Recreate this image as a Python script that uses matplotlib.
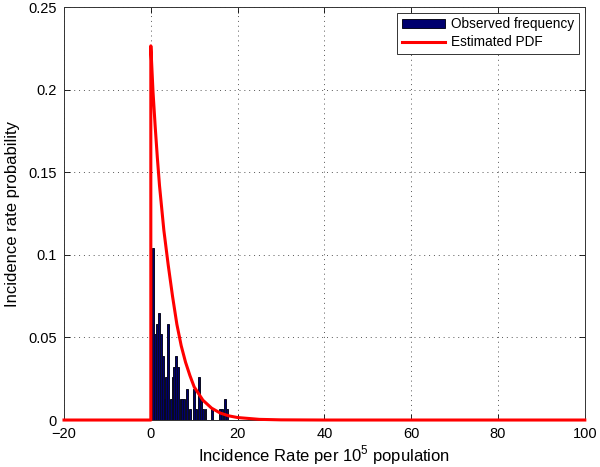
import matplotlib
matplotlib.use("Agg")
import matplotlib.pyplot as plt
from matplotlib.ticker import FixedLocator, FixedFormatter

# Observed frequency histogram (bar centres and heights)
bar_x = [0.45, 0.9, 1.36, 1.82, 2.27, 2.73, 3.2, 3.55, 4.0, 4.55, 5.0, 5.45,
         5.9, 6.36, 6.85, 7.25, 7.7, 8.4, 9.0, 9.9, 10.45, 11.0, 11.55, 12.05,
         12.6, 14.2, 15.9, 16.5, 17.0, 17.5]
bar_h = [0.104, 0.052, 0.058, 0.065, 0.052, 0.039, 0.013, 0.026, 0.058, 0.013,
         0.026, 0.032, 0.039, 0.032, 0.013, 0.013, 0.013, 0.019, 0.0065, 0.019,
         0.0065, 0.026, 0.013, 0.0065, 0.0065, 0.0065, 0.0065, 0.0065, 0.013,
         0.0065]

# Estimated PDF
pdf_x = [-20, 0, 0, 0.5, 1, 1.5, 2, 3, 4, 5, 6, 7, 8, 9, 10, 12, 14, 16, 18,
         20, 25, 30, 40, 100]
pdf_y = [0, 0, 0.2266, 0.199, 0.178, 0.159, 0.142, 0.115, 0.094, 0.075, 0.058,
         0.045, 0.035, 0.027, 0.020, 0.0120, 0.0072, 0.0042, 0.0025, 0.0015,
         0.0004, 0.0001, 0.0, 0.0]

x_ticks = [-20, 0, 20, 40, 60, 80, 100]
x_labels = ["\u221220", "0", "20", "40", "60", "80", "100"]
y_ticks = [0, 0.05, 0.1, 0.15, 0.2, 0.25]
y_labels = ["0", "0.05", "0.1", "0.15", "0.2", "0.25"]

plt.rcParams['font.family'] = ['Liberation Sans', 'DejaVu Sans']
plt.rcParams['mathtext.fontset'] = 'custom'
plt.rcParams['mathtext.rm'] = 'Liberation Sans'
fig = plt.figure(figsize=(6.0, 4.67), dpi=100)
ax = fig.add_axes([0.1067, 0.1006, 0.868, 0.884])

bars = ax.bar(bar_x, bar_h, width=0.45, color='#00006e', edgecolor='#0a0a1e',
              linewidth=0.7, label='Observed frequency', zorder=2)
line, = ax.plot(pdf_x, pdf_y, color='#ff0000', lw=2.2, label='Estimated PDF',
                zorder=4, clip_on=False)

ax.set_xlim(-20, 100)
ax.set_ylim(0, 0.25)
ax.xaxis.set_major_locator(FixedLocator(x_ticks))
ax.xaxis.set_major_formatter(FixedFormatter(x_labels))
ax.yaxis.set_major_locator(FixedLocator(y_ticks))
ax.yaxis.set_major_formatter(FixedFormatter(y_labels))
ax.tick_params(direction='in', length=4, width=0.6, labelsize=10.5,
               top=True, right=True)
ax.tick_params(axis='x', pad=5)
ax.tick_params(axis='y', pad=5)
ax.grid(True, linestyle=(0, (1, 4)), color='#555555', linewidth=0.7, zorder=0)
ax.set_axisbelow(True)
for s in ax.spines.values():
    s.set_linewidth(0.7)
    s.set_color('#333333')

ax.set_xlabel("Incidence Rate per 10$^{5}$ population", fontsize=12, labelpad=2)
ax.set_ylabel("Incidence rate probability", fontsize=12, labelpad=6)

leg = ax.legend([bars, line], ['Observed frequency', 'Estimated PDF'],
                loc='upper right', fontsize=9.8, fancybox=False, framealpha=1,
                edgecolor='#333333', borderpad=0.35, handlelength=3.2,
                handletextpad=0.45, labelspacing=0.3, borderaxespad=0.4)
leg.get_frame().set_linewidth(0.7)

fig.savefig("out.png", dpi=100)
